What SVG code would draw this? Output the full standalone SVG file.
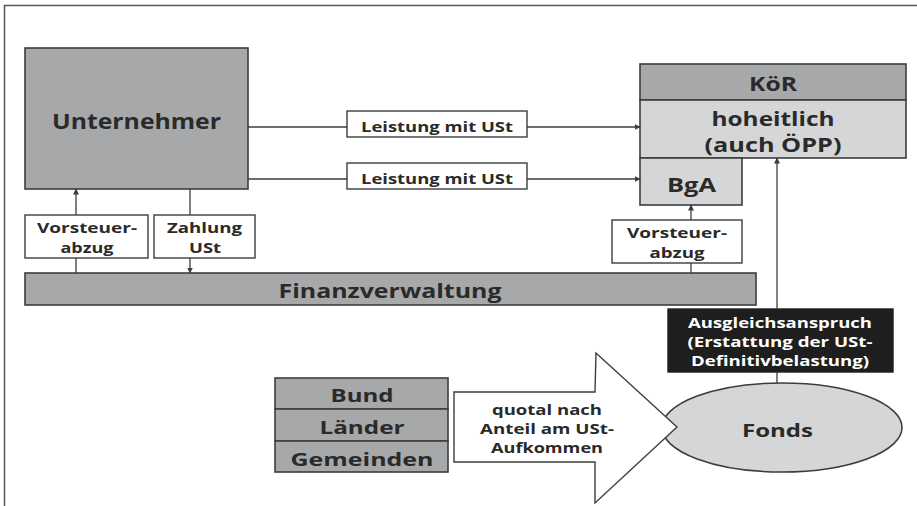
<svg xmlns="http://www.w3.org/2000/svg" width="917" height="506" viewBox="0 0 917 506">
<style>
.dark{fill:#a7a8aa;stroke:#3d3d3d;stroke-width:1.6}
.light{fill:#d5d6d7;stroke:#3d3d3d;stroke-width:1.6}
.white{fill:#ffffff;stroke:#3d3d3d;stroke-width:1.4}
.black{fill:#1e1e1e;stroke:#1e1e1e;stroke-width:1.4}
.t{font-family:"Open Sans","Liberation Sans",sans-serif;font-weight:bold;fill:#2a2a2a;text-anchor:middle}
.w{fill:#ffffff}
.ln{stroke:#3d3d3d;stroke-width:1.3;fill:none}
.frame{stroke:#555;stroke-width:1.5;fill:none}
</style>
<defs>
<marker id="ah" markerWidth="6" markerHeight="6" refX="5.5" refY="3" orient="auto" markerUnits="userSpaceOnUse">
<path d="M0,0 L6,3 L0,6 Z" fill="#3d3d3d"/>
</marker>
</defs>
<rect x="0" y="0" width="917" height="506" fill="#ffffff"/>
<path class="frame" d="M4.5,506 V5.5 H917"/>

<g id="finanzverwaltung">
<rect class="dark" x="25" y="273" width="731" height="32"/>
<text class="t" x="390" y="298" font-size="19" textLength="223" lengthAdjust="spacingAndGlyphs">Finanzverwaltung</text>
</g>

<g id="unternehmer">
<rect class="dark" x="25" y="48" width="223" height="141"/>
<text class="t" x="136.5" y="129" font-size="21" textLength="169" lengthAdjust="spacingAndGlyphs">Unternehmer</text>
</g>

<g id="leistung1">
<rect class="white" x="347" y="111" width="180" height="26"/>
<text class="t" x="437" y="132" font-size="15" textLength="152" lengthAdjust="spacingAndGlyphs">Leistung mit USt</text>
</g>

<g id="leistung2">
<rect class="white" x="347" y="163" width="180" height="26"/>
<text class="t" x="437" y="184" font-size="15" textLength="152" lengthAdjust="spacingAndGlyphs">Leistung mit USt</text>
</g>

<g id="koer">
<rect class="dark" x="640" y="64" width="266" height="36"/>
<text class="t" x="773" y="91" font-size="19" textLength="48" lengthAdjust="spacingAndGlyphs">KöR</text>
<rect class="light" x="640" y="100" width="266" height="58"/>
<text class="t" x="773" y="126" font-size="19" textLength="123" lengthAdjust="spacingAndGlyphs">hoheitlich</text>
<text class="t" x="773" y="152" font-size="19" textLength="137" lengthAdjust="spacingAndGlyphs">(auch ÖPP)</text>
</g>

<g id="bga">
<rect class="light" x="640" y="158" width="102" height="47"/>
<text class="t" x="691.5" y="192" font-size="20" textLength="49" lengthAdjust="spacingAndGlyphs">BgA</text>
</g>

<g id="vorsteuer-links">
<rect class="white" x="25" y="215" width="123" height="43"/>
<text class="t" x="87" y="233" font-size="14.5" textLength="100" lengthAdjust="spacingAndGlyphs">Vorsteuer-</text>
<text class="t" x="87" y="253" font-size="14.5" textLength="53" lengthAdjust="spacingAndGlyphs">abzug</text>
</g>

<g id="zahlung-ust">
<rect class="white" x="154" y="215" width="101" height="43"/>
<text class="t" x="204.5" y="233" font-size="14.5" textLength="75" lengthAdjust="spacingAndGlyphs">Zahlung</text>
<text class="t" x="205" y="253" font-size="14.5" textLength="32" lengthAdjust="spacingAndGlyphs">USt</text>
</g>

<g id="vorsteuer-rechts">
<rect class="white" x="612" y="220" width="130" height="43"/>
<text class="t" x="677" y="238" font-size="14.5" textLength="100" lengthAdjust="spacingAndGlyphs">Vorsteuer-</text>
<text class="t" x="677" y="258" font-size="14.5" textLength="55" lengthAdjust="spacingAndGlyphs">abzug</text>
</g>

<g id="ausgleichsanspruch">
<rect class="black" x="668" y="309" width="225" height="63"/>
<text class="t w" x="780" y="328" font-size="14" textLength="184" lengthAdjust="spacingAndGlyphs">Ausgleichsanspruch</text>
<text class="t w" x="780" y="347" font-size="14" textLength="185" lengthAdjust="spacingAndGlyphs">(Erstattung der USt-</text>
<text class="t w" x="780" y="366" font-size="14" textLength="178" lengthAdjust="spacingAndGlyphs">Definitivbelastung)</text>
</g>

<g id="bund-laender-gemeinden">
<rect class="dark" x="275" y="378" width="173" height="31"/>
<rect class="dark" x="275" y="409" width="173" height="32"/>
<rect class="dark" x="275" y="441" width="173" height="31"/>
<text class="t" x="362" y="402" font-size="18.5" textLength="63" lengthAdjust="spacingAndGlyphs">Bund</text>
<text class="t" x="362" y="434" font-size="18.5" textLength="85" lengthAdjust="spacingAndGlyphs">Länder</text>
<text class="t" x="362" y="466" font-size="18.5" textLength="143" lengthAdjust="spacingAndGlyphs">Gemeinden</text>
</g>

<g id="connectors">
<line class="ln" x1="248" y1="127" x2="347" y2="127"/>
<line class="ln" x1="527" y1="127" x2="640" y2="127" marker-end="url(#ah)"/>
<line class="ln" x1="248" y1="179" x2="347" y2="179"/>
<line class="ln" x1="527" y1="179" x2="640" y2="179" marker-end="url(#ah)"/>
<line class="ln" x1="76" y1="215" x2="76" y2="189" marker-end="url(#ah)"/>
<line class="ln" x1="76" y1="273" x2="76" y2="258"/>
<line class="ln" x1="190" y1="189" x2="190" y2="215"/>
<line class="ln" x1="190" y1="258" x2="190" y2="273" marker-end="url(#ah)"/>
<line class="ln" x1="691" y1="220" x2="691" y2="205" marker-end="url(#ah)"/>
<line class="ln" x1="691" y1="273" x2="691" y2="263"/>
<line class="ln" x1="777" y1="309" x2="777" y2="158" marker-end="url(#ah)"/>
<line class="ln" x1="777" y1="383" x2="777" y2="372"/>
</g>

<g id="fonds">
<ellipse class="light" cx="782" cy="427.5" rx="120" ry="44.5"/>
<text class="t" x="777.5" y="437" font-size="18.5" textLength="71" lengthAdjust="spacingAndGlyphs">Fonds</text>
</g>

<g id="quotal-arrow">
<polygon class="white" points="454,392 595,392 596,353 677,427 595,503 595,462 454,462"/>
<text class="t" x="547" y="415" font-size="14" textLength="110" lengthAdjust="spacingAndGlyphs">quotal nach</text>
<text class="t" x="547" y="434" font-size="14" textLength="134" lengthAdjust="spacingAndGlyphs">Anteil am USt-</text>
<text class="t" x="547" y="453" font-size="14" textLength="112" lengthAdjust="spacingAndGlyphs">Aufkommen</text>
</g>
</svg>
